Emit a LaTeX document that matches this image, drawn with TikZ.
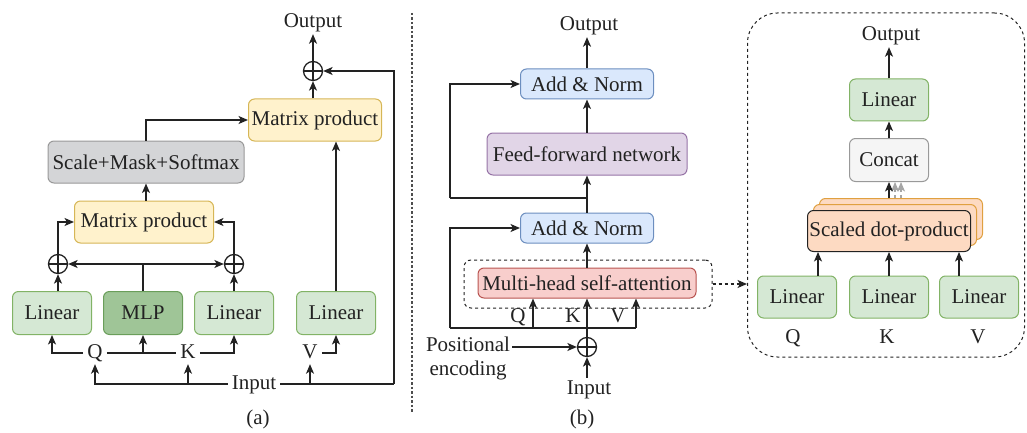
\documentclass[tikz,border=0pt]{standalone}
\usepackage{fontspec}
\setmainfont{Liberation Serif}
\usetikzlibrary{arrows.meta}
\definecolor{txt}{HTML}{222222}
\definecolor{gF}{HTML}{D5E8D4}\definecolor{gD}{HTML}{82B366}
\definecolor{mF}{HTML}{9FC597}\definecolor{mD}{HTML}{6A9E5A}
\definecolor{yF}{HTML}{FFF2CC}\definecolor{yD}{HTML}{D6B656}
\definecolor{sF}{HTML}{D4D5D7}\definecolor{sD}{HTML}{999999}
\definecolor{bF}{HTML}{DAE8FC}\definecolor{bD}{HTML}{6C8EBF}
\definecolor{pF}{HTML}{E1D5E7}\definecolor{pD}{HTML}{9673A6}
\definecolor{rF}{HTML}{F8CECC}\definecolor{rD}{HTML}{B85450}
\definecolor{cF}{HTML}{F5F5F5}\definecolor{cD}{HTML}{999999}
\definecolor{oF}{HTML}{FDDAC2}\definecolor{oD}{HTML}{E0A040}
\begin{document}
\begin{tikzpicture}[x=1pt,y=1pt,
  every node/.style={text=txt,font=\fontsize{21}{24}\selectfont},
  box/.style={draw, rounded corners=6pt, line width=1pt, minimum height=42pt, inner sep=0pt},
  lin/.style={box, fill=gF, draw=gD, minimum width=79pt},
  ylw/.style={box, fill=yF, draw=yD},
  blu/.style={box, fill=bF, draw=bD, minimum width=133pt, minimum height=30pt},
  lab/.style={inner xsep=4pt, inner ysep=2pt, text height=14pt, text depth=4pt},
  arr/.style={-{Stealth[length=9.5pt,width=8pt,inset=2.5pt]}, line width=1.3pt, draw=txt},
  ln/.style={line width=1.3pt, draw=txt},
  plus/.style={circle, draw=txt, line width=1.3pt, minimum size=19pt, inner sep=0pt,
    path picture={\draw[line width=1.3pt,txt] (path picture bounding box.north) -- (path picture bounding box.south) (path picture bounding box.west) -- (path picture bounding box.east);}}
]
\useasboundingbox (0,0) rectangle (1027,-433);

% ---------------- panel (a)
\node[lab] (outA) at (313,-23) {Output};
\node[plus] (plusA) at (313,-71) {};
\node[ylw, minimum width=133pt] (mpTop) at (315,-120) {Matrix product};
\node[box, fill=sF, draw=sD, minimum width=196pt] (sms) at (146,-162) {Scale+Mask+Softmax};
\node[ylw, minimum width=139pt] (mpLow) at (144,-222) {Matrix product};
\node[plus] (plusL) at (58,-264) {};
\node[plus] (plusR) at (234,-264) {};
\node[lin, minimum height=43pt] (lin1) at (52,-313) {Linear};
\node[box, fill=mF, draw=mD, minimum width=79pt, minimum height=43pt] (mlp) at (143,-313) {MLP};
\node[lin, minimum height=43pt] (lin2) at (234,-313) {Linear};
\node[lin, minimum height=43pt] (linV) at (336,-313) {Linear};
\node[lab] (Q) at (95,-353) {Q};
\node[lab] (K) at (188,-353) {K};
\node[lab] (V) at (310,-353) {V};
\node[lab] (inA) at (254,-384) {Input};
\node[lab] (capA) at (258,-419) {(a)};
\coordinate (rcA) at (394,-384);

\draw[arr] (plusA.north) -- (outA.south);
\draw[arr] (mpTop.north -| plusA) -- (plusA.south);
\draw[arr] (rcA) |- (plusA.east);
\draw[ln] (inA.east) -- (rcA);
\draw[arr] (sms.north) |- (mpTop.west);
\draw[arr] (mpLow.north -| sms.north) -- (sms.south);
\draw[arr] (plusL.north) |- (mpLow.west);
\draw[arr] (plusR.north) |- (mpLow.east);
\draw[arr] (mlp.north) |- (plusL.east);
\draw[arr] (mlp.north) |- (plusR.west);
\draw[arr] (plusL |- lin1.north) -- (plusL.south);
\draw[arr] (lin2.north) -- (plusR.south);
\draw[arr] (Q.west) -| (lin1.south);
\draw[ln] (Q.east) -- (K.west);
\draw[arr] (mlp.south |- Q.east) -- (mlp.south);
\draw[arr] (K.east) -| (lin2.south);
\draw[arr] (V.east) -| (linV.south);
\draw[arr] (linV.north) -- (linV.north |- mpTop.south);
\draw[arr] (inA.west) -| (Q.south);
\draw[arr] (K.south |- inA.west) -- (K.south);
\draw[arr] (V.south |- inA.east) -- (V.south);

% divider
\draw[line width=1.2pt, draw=txt!80, dash pattern=on 2.5pt off 2pt] (412,-13) -- (412,-412);

% ---------------- panel (b)
\node[lab] (outB) at (589,-26) {Output};
\node[blu] (an1) at (587,-84) {Add \& Norm};
\node[box, fill=pF, draw=pD, minimum width=200pt] (ff) at (587,-154) {Feed-forward network};
\node[blu] (an2) at (587,-228) {Add \& Norm};
\node[draw=txt, dashed, line width=1pt, rounded corners=7pt, minimum width=248pt, minimum height=48pt] (mhaBox) at (588,-284) {};
\node[box, fill=rF, draw=rD, minimum width=218pt, minimum height=30pt] (mha) at (587,-283) {Multi-head self-attention};
\node[lab] (Q2) at (518,-317) {Q};
\node[lab] (K2) at (573,-317) {K};
\node[lab] (V2) at (618,-317) {V};
\node[plus] (plusB) at (587,-347) {};
\node[align=center, inner sep=2pt] (pos) at (468,-358) {Positional\\encoding};
\node[lab] (inB) at (589,-389) {Input};
\node[lab] (capB) at (582,-419) {(b)};
\coordinate (r1a) at (587,-198);
\coordinate (r1b) at (450,-198);
\coordinate (r2a) at (450,-328);
\coordinate (r2b) at (636,-328);
\coordinate (r2q) at (533,-328);

\draw[arr] (an1.north) -- (an1.north |- outB.south);
\draw[arr] (ff.north) -- (an1.south);
\draw[arr] (an2.north) -- (ff.south);
\draw[arr] (mha.north) -- (an2.south);
\draw[arr] (plusB.north) -- (mha.south);
\draw[arr] (plusB |- inB.north) -- (plusB.south);
\draw[arr] (plusB.west -| pos.east) -- (plusB.west);
\draw[ln] (r1a) -- (r1b);
\draw[arr] (r1b) |- (an1.west);
\draw[ln] (r2a) -- (r2b);
\draw[arr] (r2a) |- (an2.west);
\draw[arr] (r2b) -- (r2b |- mha.south);
\draw[arr] (r2q) -- (r2q |- mha.south);

% ---------------- detail
\node[draw=txt, dashed, line width=1pt, rounded corners=30pt, minimum width=277pt, minimum height=344pt, inner sep=0pt] (big) at (886,-185) {};
\draw[arr, dashed] (mhaBox.east) -- (mhaBox.east -| big.west);
\node[lab] (outC) at (891,-36) {Output};
\node[lin] (linC) at (889,-100) {Linear};
\node[box, fill=cF, draw=cD, minimum width=79pt, minimum height=43pt] (cc) at (889,-160) {Concat};
\node[box, fill=oF, draw=oD, minimum width=163pt, minimum height=41pt] (sdp3) at (901,-219) {};
\node[box, fill=oF, draw=oD, minimum width=163pt, minimum height=41pt] (sdp2) at (895,-225) {};
\node[box, fill=oF, draw=txt, minimum width=163pt, minimum height=41pt] (sdp) at (889,-231) {Scaled dot-product};
\node[lin] (lQ) at (797,-297) {Linear};
\node[lin] (lK) at (889,-297) {Linear};
\node[lin] (lV) at (979,-297) {Linear};
\node[lab] (Q3) at (793,-338) {Q};
\node[lab] (K3) at (887,-338) {K};
\node[lab] (V3) at (978,-338) {V};

\draw[arr] (linC.north) -- (linC.north |- outC.south);
\draw[arr] (cc.north) -- (linC.south);
\draw[arr, draw=gray!70, dashed] ([xshift=12pt]cc.south |- sdp3.north) -- ([xshift=12pt]cc.south);
\draw[arr, draw=gray!70, dashed] ([xshift=6pt]cc.south |- sdp3.north) -- ([xshift=6pt]cc.south);
\draw[arr] (cc.south |- sdp3.north) -- (cc.south);
\draw[arr] ([xshift=21pt]lQ.north) -- ([xshift=21pt]lQ.north |- sdp.south);
\draw[arr] (lK.north) -- (lK.north |- sdp.south);
\draw[arr] ([xshift=-20pt]lV.north) -- ([xshift=-20pt]lV.north |- sdp.south);
\end{tikzpicture}
\end{document}
